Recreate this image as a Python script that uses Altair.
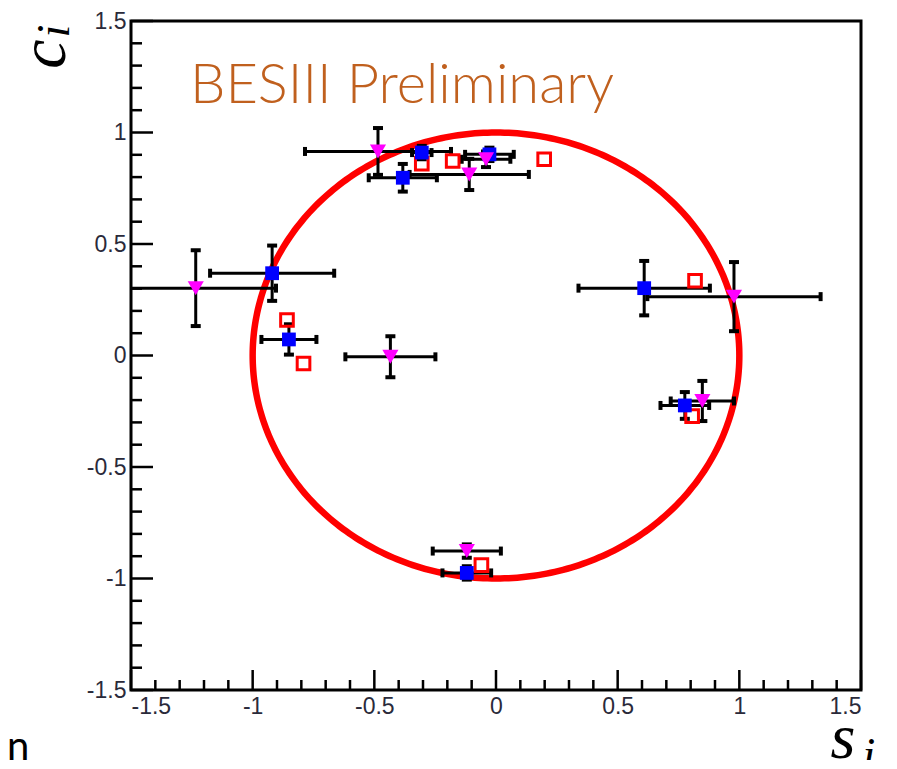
import altair as alt
import numpy as np
import pandas as pd

W, H = 730, 669

# ---- data ----
# blue filled squares (s_i, c_i) with errors
blue_s = [-0.383, -0.305, -0.027, -0.920, -0.851, 0.609, 0.776, -0.120]
blue_c = [0.797, 0.910, 0.902, 0.369, 0.072, 0.302, -0.224, -0.975]
blue_es = [0.14, 0.04, 0.10, 0.255, 0.113, 0.27, 0.10, 0.10]
blue_ec = [0.062, 0.03, 0.03, 0.124, 0.068, 0.122, 0.06, 0.03]

# magenta inverted triangles
mag_s = [-0.485, -0.041, -0.110, -1.234, -0.434, 0.978, 0.848, -0.120]
mag_c = [0.915, 0.880, 0.812, 0.302, -0.006, 0.264, -0.204, -0.877]
mag_es = [0.30, 0.10, 0.245, 0.33, 0.185, 0.356, 0.13, 0.14]
mag_ec = [0.105, 0.035, 0.07, 0.17, 0.092, 0.155, 0.09, 0.03]

# red open squares (no errors)
red_s = [-0.305, -0.178, 0.198, -0.859, -0.791, 0.818, 0.806, -0.060]
red_c = [0.860, 0.872, 0.880, 0.159, -0.036, 0.335, -0.272, -0.940]

# axis ticks
major_ticks = [-1.5, -1.0, -0.5, 0.0, 0.5, 1.0, 1.5]
minor_ticks = [-1.4, -1.3, -1.2, -1.1, -0.9, -0.8, -0.7, -0.6, -0.4, -0.3, -0.2, -0.1,
               0.1, 0.2, 0.3, 0.4, 0.6, 0.7, 0.8, 0.9, 1.1, 1.2, 1.3, 1.4]

# ---- tables ----
blue = pd.DataFrame({"s": blue_s, "c": blue_c, "es": blue_es, "ec": blue_ec})
mag = pd.DataFrame({"s": mag_s, "c": mag_c, "es": mag_es, "ec": mag_ec})
red = pd.DataFrame({"s": red_s, "c": red_c})
err = pd.concat([blue, mag], ignore_index=True)
err["slo"] = err["s"] - err["es"]
err["shi"] = err["s"] + err["es"]
err["clo"] = err["c"] - err["ec"]
err["chi"] = err["c"] + err["ec"]
xcaps = pd.DataFrame({"s": list(err["slo"]) + list(err["shi"]), "c": list(err["c"]) * 2})
ycaps = pd.DataFrame({"s": list(err["s"]) * 2, "c": list(err["clo"]) + list(err["chi"])})

phi = np.linspace(0, 2 * np.pi, 361)
circle = pd.DataFrame({"s": np.cos(phi), "c": np.sin(phi), "o": np.arange(361)})

xs = alt.Scale(domain=[-1.5, 1.5], nice=False, zero=False)
ys = alt.Scale(domain=[-1.5, 1.5], nice=False, zero=False)
xaxis = alt.Axis(values=major_ticks, labelExpr="'' + datum.value", title=None,
                 labelBaseline="top", labelPadding=5)
yaxis = alt.Axis(values=major_ticks, labelExpr="'' + datum.value", title=None,
                 labelAlign="right", labelBaseline="middle", labelPadding=5)


def X(f):
    return alt.X(f, type="quantitative", scale=xs, axis=xaxis, title=None)


def Y(f):
    return alt.Y(f, type="quantitative", scale=ys, axis=yaxis, title=None)


circ = alt.Chart(circle).mark_line(color="#ff0000", strokeWidth=6.5, clip=True).encode(
    x=X("s"), y=Y("c"), order="o:Q")

xbars = alt.Chart(err).mark_rule(color="black", strokeWidth=3, clip=True).encode(
    x=X("slo"), x2="shi", y=Y("c"))
ybars = alt.Chart(err).mark_rule(color="black", strokeWidth=3, clip=True).encode(
    x=X("s"), y=Y("clo"), y2="chi")
xc = alt.Chart(xcaps).mark_tick(orient="vertical", color="black", size=9, thickness=4,
                                 clip=True, opacity=1).encode(x=X("s"), y=Y("c"))
yc = alt.Chart(ycaps).mark_tick(orient="horizontal", color="black", size=10, thickness=4,
                                 clip=True, opacity=1).encode(x=X("s"), y=Y("c"))

redpts = alt.Chart(red).mark_point(shape="square", filled=False, color="#ff0000",
                                   size=160, strokeWidth=3, opacity=1).encode(x=X("s"), y=Y("c"))
bluepts = alt.Chart(blue).mark_point(shape="square", filled=True, color="#0000ff",
                                     size=190, opacity=1).encode(x=X("s"), y=Y("c"))
magpts = alt.Chart(mag).mark_point(shape="triangle-down", filled=True, color="#ff00ff",
                                   size=260, opacity=1).encode(x=X("s"), y=Y("c"))

maj = pd.DataFrame({"v": major_ticks})
mnr = pd.DataFrame({"v": minor_ticks})
tx_major = alt.Chart(maj).mark_rule(color="black", strokeWidth=2.5).encode(
    x=X("v"), y=alt.value(H), y2=alt.value(H - 20))
tx_minor = alt.Chart(mnr).mark_rule(color="black", strokeWidth=2.5).encode(
    x=X("v"), y=alt.value(H), y2=alt.value(H - 10))
ty_major = alt.Chart(maj).mark_rule(color="black", strokeWidth=2.5).encode(
    y=Y("v"), x=alt.value(0), x2=alt.value(22))
ty_minor = alt.Chart(mnr).mark_rule(color="black", strokeWidth=2.5).encode(
    y=Y("v"), x=alt.value(0), x2=alt.value(11))

title_txt = alt.Chart(pd.DataFrame({"t": ["BESIII Preliminary"]})).mark_text(
    font="Lato", fontSize=56, fontWeight=300, color="#c0601e", align="left",
    baseline="alphabetic").encode(text="t:N", x=alt.value(59), y=alt.value(82))

c_lab = alt.Chart(pd.DataFrame({"t": ["c"]})).mark_text(
    font="Liberation Serif", fontStyle="italic", fontSize=66, color="black", angle=270,
    align="center", baseline="middle").encode(text="t:N", x=alt.value(-86), y=alt.value(33))
ci_lab = alt.Chart(pd.DataFrame({"t": ["i"]})).mark_text(
    font="Liberation Serif", fontStyle="italic", fontSize=46, color="black", angle=270,
    align="center", baseline="middle").encode(text="t:N", x=alt.value(-76), y=alt.value(10))
s_lab = alt.Chart(pd.DataFrame({"t": ["s"]})).mark_text(
    font="Liberation Serif", fontStyle="italic", fontSize=64, color="black",
    align="center", baseline="alphabetic").encode(text="t:N", x=alt.value(712), y=alt.value(737))
si_lab = alt.Chart(pd.DataFrame({"t": ["i"]})).mark_text(
    font="Liberation Serif", fontStyle="italic", fontSize=46, color="black",
    align="center", baseline="alphabetic").encode(text="t:N", x=alt.value(738), y=alt.value(749))
n_lab = alt.Chart(pd.DataFrame({"t": ["n"]})).mark_text(
    font="Lato", fontSize=40, color="black", align="left",
    baseline="alphabetic").encode(text="t:N", x=alt.value(-124), y=alt.value(739))

chart = alt.layer(
    circ, xbars, ybars, xc, yc, redpts, bluepts, magpts,
    tx_major, tx_minor, ty_major, ty_minor,
    title_txt, c_lab, ci_lab, s_lab, si_lab, n_lab,
).properties(
    width=W, height=H,
    padding={"left": 123, "top": 13, "right": 28, "bottom": 70},
    autosize=alt.AutoSizeParams(type="none"),
).configure_view(
    stroke="black", strokeWidth=3
).configure_axis(
    domain=False, ticks=False, grid=False,
    labelFont="Liberation Sans", labelFontSize=23, labelColor="#2a2a3a",
)

chart.save("out.html", embed_options={"renderer": "svg", "actions": False})
